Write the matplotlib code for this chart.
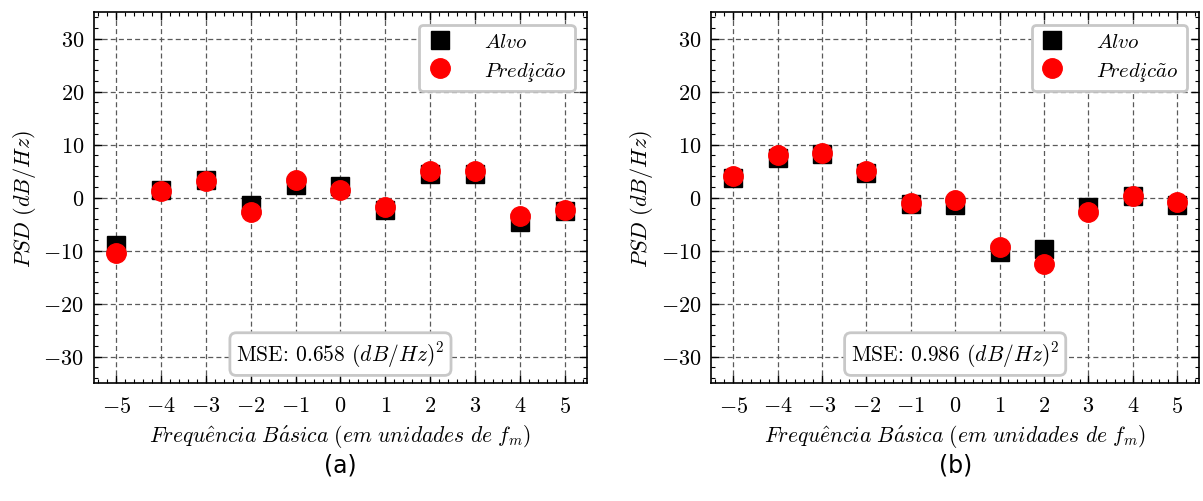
import matplotlib
matplotlib.use("Agg")
import matplotlib.pyplot as plt
from matplotlib.ticker import MultipleLocator, FuncFormatter

plt.rcParams['mathtext.fontset'] = 'cm'
plt.rcParams['font.family'] = 'serif'
plt.rcParams['font.serif'] = ['cmr10', 'DejaVu Serif']
plt.rcParams['axes.formatter.use_mathtext'] = True

# harmonic index (units of f_m)
freqs = [-5, -4, -3, -2, -1, 0, 1, 2, 3, 4, 5]

# panel (a)
alvo_a = [-9.0, 1.5, 3.4, -1.4, 2.4, 2.2, -2.3, 4.5, 4.5, -4.7, -2.5]
pred_a = [-10.5, 1.2, 3.2, -2.8, 3.3, 1.4, -1.8, 5.0, 5.0, -3.5, -2.3]
mse_a = 0.658

# panel (b)
alvo_b = [3.7, 7.4, 8.2, 4.6, -1.3, -1.5, -10.3, -9.8, -1.8, 0.3, -1.4]
pred_b = [4.1, 8.0, 8.4, 5.0, -1.0, -0.4, -9.4, -12.6, -2.7, 0.3, -0.8]
mse_b = 0.986

panels = [(alvo_a, pred_a, mse_a, "(a)"), (alvo_b, pred_b, mse_b, "(b)")]
positions = [[0.078, 0.235, 0.410, 0.739], [0.591, 0.235, 0.406, 0.739]]

int_fmt = FuncFormatter(lambda v, p: r"$%d$" % round(v))


def draw(ax, alvo, pred, mse):
    ax.plot(freqs, alvo, 's', color='black', markersize=13, label=r"$Alvo$", zorder=3)
    ax.plot(freqs, pred, 'o', color='red', markersize=14, label=r"$Predi\c{c}\~ao$", zorder=4)
    ax.set_xlim(-5.5, 5.5)
    ax.set_ylim(-35, 35)
    ax.xaxis.set_major_locator(MultipleLocator(1))
    ax.xaxis.set_minor_locator(MultipleLocator(0.2))
    ax.yaxis.set_major_locator(MultipleLocator(10))
    ax.yaxis.set_minor_locator(MultipleLocator(2))
    ax.xaxis.set_major_formatter(int_fmt)
    ax.yaxis.set_major_formatter(int_fmt)
    ax.tick_params(which='both', direction='in', top=True, right=True, labelsize=16)
    ax.tick_params(which='major', length=6, width=1)
    ax.tick_params(axis='x', which='major', pad=9)
    ax.tick_params(axis='y', which='major', pad=7)
    ax.tick_params(which='minor', length=3, width=0.8)
    ax.grid(True, which='major', linestyle=(0, (4, 2.5)), color='#5a5a5a', linewidth=0.9)
    ax.set_axisbelow(True)
    for s in ax.spines.values():
        s.set_linewidth(1.2)
    ax.set_xlabel(r"$Frequ\hat{e}ncia\ B\acute{a}sica\ (em\ unidades\ de\ f_m)$", fontsize=15.5, labelpad=5)
    ax.set_ylabel(r"$PSD\ (dB/Hz)$", fontsize=16, labelpad=4)
    leg = ax.legend(loc='upper right', fontsize=15, frameon=True, fancybox=True,
                    framealpha=1, edgecolor='#c8c8c8', handletextpad=1.5,
                    borderpad=0.4, labelspacing=0.4, handlelength=1.2,
                    borderaxespad=0.6)
    leg.get_frame().set_linewidth(2)
    ax.text(0.5, 0.078, r"MSE: $%.3f$ $(dB/Hz)^2$" % mse, transform=ax.transAxes,
            ha='center', va='center', fontsize=15.5,
            bbox=dict(boxstyle='round,pad=0.3', facecolor='white', edgecolor='#c8c8c8', linewidth=2))


fig = plt.figure(figsize=(12.03, 5.02), dpi=100)
for (alvo, pred, mse, tag), pos in zip(panels, positions):
    ax = fig.add_axes(pos)
    draw(ax, alvo, pred, mse)
    fig.text(pos[0] + pos[2] / 2, 0.072, tag, ha='center', va='center',
             fontsize=17, family='DejaVu Sans')

fig.savefig("out.png", dpi=100)
